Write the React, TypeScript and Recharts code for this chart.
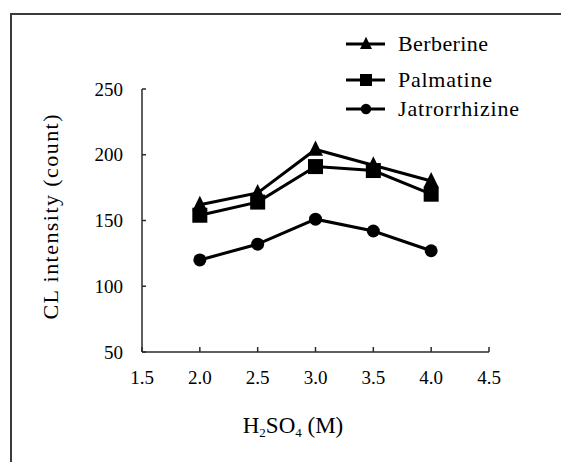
import React from 'react';
import { LineChart, Line, XAxis, YAxis, Label, Legend } from 'recharts';

// H2SO4 concentration (M) and CL intensity (count) for each alkaloid
const concentrations = [2.0, 2.5, 3.0, 3.5, 4.0];
const berberine = [162, 171, 204, 192, 180];
const palmatine = [154, 164, 191, 188, 170];
const jatrorrhizine = [120, 132, 151, 142, 127];

const xTicks = [1.5, 2.0, 2.5, 3.0, 3.5, 4.0, 4.5];
const yTicks = [50, 100, 150, 200, 250];

const seriesNames = ['Berberine', 'Palmatine', 'Jatrorrhizine'];
const seriesKeys = ['berberine', 'palmatine', 'jatrorrhizine'];
const seriesShapes = ['triangle', 'square', 'circle'];

const chartData = concentrations.map((c, i) => ({
  c,
  berberine: berberine[i],
  palmatine: palmatine[i],
  jatrorrhizine: jatrorrhizine[i],
}));

const serif = { fontFamily: "'Liberation Serif', 'DejaVu Serif', serif" };
const INK = '#000';
const AXIS = '#2a2a2a';

const Marker = ({ shape, cx, cy, s = 1 }: any) => {
  if (cx == null || cy == null) return null;
  if (shape === 'triangle') {
    const h = 9 * s;
    const w = 7.5 * s;
    return <polygon points={`${cx},${cy - h} ${cx - w},${cy + h * 0.7} ${cx + w},${cy + h * 0.7}`} fill={INK} />;
  }
  if (shape === 'square') {
    const r = 7.5 * s;
    return <rect x={cx - r} y={cy - r} width={r * 2} height={r * 2} fill={INK} />;
  }
  return <circle cx={cx} cy={cy} r={6.5 * s} fill={INK} />;
};

const YTick = ({ x, y, payload }: any) => (
  <g>
    <line x1={x} x2={x + 4} y1={y} y2={y} stroke={AXIS} strokeWidth={1.5} />
    <text x={x - 19} y={y + 6.5} textAnchor="end" style={serif} fontSize={19} fill={INK}>
      {payload.value}
    </text>
  </g>
);

const XTick = ({ x, y, payload }: any) => (
  <g>
    <line x1={x} x2={x} y1={y} y2={y - 5} stroke={AXIS} strokeWidth={1.5} />
    <text x={x} y={y + 32} textAnchor="middle" style={serif} fontSize={19} fill={INK}>
      {payload.value.toFixed(1)}
    </text>
  </g>
);

const legendRows = [44, 80, 109];
const legendWidths = [90, 94, 121];

const LegendBox = () => (
  <svg width={561} height={130} style={{ position: 'absolute', left: 0, top: 0, overflow: 'visible' }}>
    {seriesNames.map((name, i) => (
      <g key={name}>
        <line x1={346} x2={385} y1={legendRows[i]} y2={legendRows[i]} stroke={INK} strokeWidth={3} />
        <Marker shape={seriesShapes[i]} cx={366} cy={legendRows[i]} s={0.8} />
        <text
          x={398}
          y={legendRows[i] + 6.5}
          style={serif}
          fontSize={22}
          fill={INK}
          textLength={legendWidths[i]}
          lengthAdjust="spacing"
        >
          {name}
        </text>
      </g>
    ))}
  </svg>
);

export default function App() {
  return (
    <div style={{ position: 'absolute', left: 0, top: 0, width: 561, height: 462, overflow: 'hidden', background: '#fff' }}>
      <div
        style={{
          position: 'absolute',
          left: 10,
          top: 13,
          width: 600,
          height: 500,
          borderLeft: '2px solid #3a3a3a',
          borderTop: '2px solid #3a3a3a',
        }}
      />
      <LineChart
        width={561}
        height={462}
        data={chartData}
        margin={{ top: 89, right: 72, bottom: 80, left: 82 }}
        style={{ position: 'absolute', left: 0, top: 0 }}
      >
        <XAxis
          dataKey="c"
          type="number"
          domain={[1.5, 4.5]}
          ticks={xTicks}
          height={30}
          tickSize={0}
          tickMargin={0}
          tick={<XTick />}
          axisLine={{ stroke: AXIS, strokeWidth: 1.5 }}
          interval={0}
        >
          <Label
            content={() => (
              <text x={293} y={433} textAnchor="middle" style={serif} fontSize={23} fill={INK}>
                H<tspan fontSize={13} dy={4}>2</tspan>
                <tspan dy={-4}>SO</tspan>
                <tspan fontSize={13} dy={4}>4</tspan>
                <tspan dy={-4}> (M)</tspan>
              </text>
            )}
          />
        </XAxis>
        <YAxis
          type="number"
          domain={[50, 250]}
          ticks={yTicks}
          width={60}
          tickSize={0}
          tickMargin={0}
          tick={<YTick />}
          axisLine={{ stroke: AXIS, strokeWidth: 1.5 }}
          interval={0}
        >
          <Label
            content={() => (
              <text
                x={50}
                y={217}
                transform="rotate(-90 50 217)"
                textAnchor="middle"
                dominantBaseline="central"
                style={serif}
                fontSize={22}
                fill={INK}
                textLength={205}
                lengthAdjust="spacing"
              >
                CL intensity (count)
              </text>
            )}
          />
        </YAxis>
        {seriesKeys.map((key, i) => (
          <Line
            key={key}
            dataKey={key}
            name={seriesNames[i]}
            stroke={INK}
            strokeWidth={3}
            isAnimationActive={false}
            dot={(p: any) => <Marker key={`${key}-${p.index}`} shape={seriesShapes[i]} cx={p.cx} cy={p.cy} />}
            activeDot={false}
          />
        ))}
        <Legend content={() => null} />
      </LineChart>
      <LegendBox />
    </div>
  );
}
